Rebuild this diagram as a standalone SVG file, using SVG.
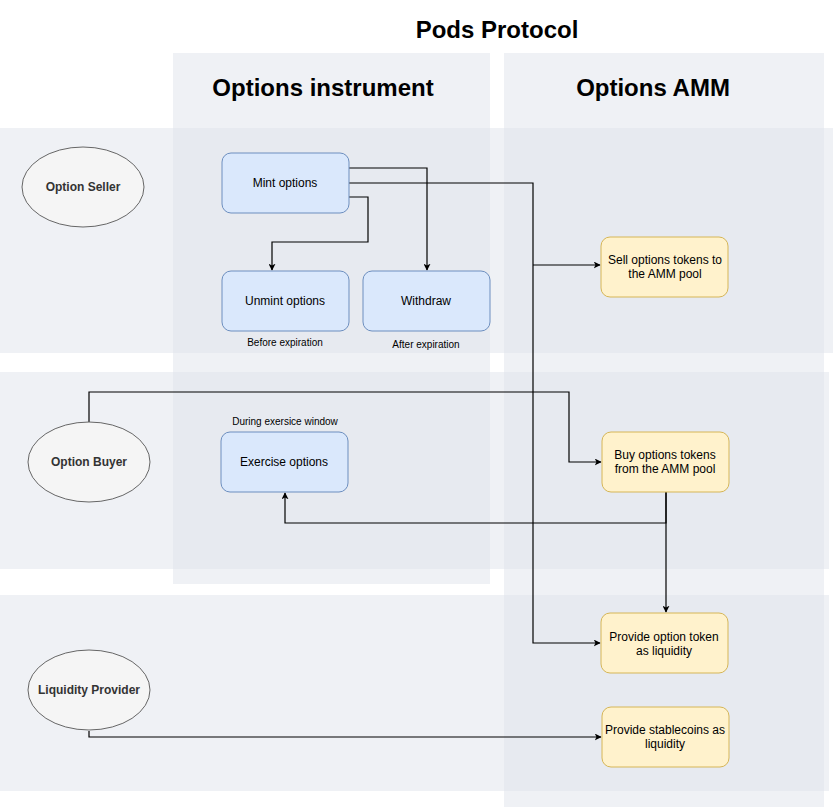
<svg xmlns="http://www.w3.org/2000/svg" width="834" height="807" viewBox="0 0 834 807">
<style>
text{font-family:"Liberation Sans",Arial,Helvetica,sans-serif;fill:#000}
.bg{fill:#dfe3eb;fill-opacity:0.5}
.h1{font-size:24px;font-weight:bold;text-anchor:middle}
.blue{fill:#dae8fc;stroke:#6c8ebf;stroke-width:1}
.yel{fill:#fff2cc;stroke:#d6b656;stroke-width:1}
.ell{fill:#f5f5f5;stroke:#666666;stroke-width:1}
.t{font-size:12px;text-anchor:middle}
.tb{font-size:12px;font-weight:bold;text-anchor:middle;fill:#333}
.s{font-size:10px;text-anchor:middle}
.c{fill:none;stroke:#000;stroke-width:1.2}
</style>
<defs>
<marker id="arr" viewBox="0 0 10 10" refX="9" refY="5" markerWidth="7" markerHeight="7" orient="auto" markerUnits="userSpaceOnUse">
<path d="M0,0 L10,5 L0,10 L2.5,5 Z" fill="#000"/>
</marker>
</defs>
<rect width="834" height="807" fill="#ffffff"/>
<g id="lanes">
<rect class="bg" x="173" y="53" width="317" height="531"/>
<rect class="bg" x="504" y="53" width="320" height="754"/>
<rect class="bg" x="0" y="128" width="833" height="225"/>
<rect class="bg" x="0" y="372" width="829" height="197"/>
<rect class="bg" x="0" y="595" width="829" height="196"/>
</g>
<text class="h1" x="497" y="38">Pods Protocol</text>
<text class="h1" x="323" y="96">Options instrument</text>
<text class="h1" x="653" y="96">Options AMM</text>
<g id="connectors">
<path class="c" d="M349,168 H427 V270" marker-end="url(#arr)"/>
<path class="c" d="M349,197 H368 V242 H272 V270" marker-end="url(#arr)"/>
<path class="c" d="M349,183 H533 V643 H600" marker-end="url(#arr)"/>
<path class="c" d="M533,265 H600" marker-end="url(#arr)"/>
<path class="c" d="M89,422 V392 H569 V462 H601" marker-end="url(#arr)"/>
<path class="c" d="M666,492 V523 H285 V493" marker-end="url(#arr)"/>
<path class="c" d="M666,492 V612" marker-end="url(#arr)"/>
<path class="c" d="M89,731 V737 H601" marker-end="url(#arr)"/>
</g>
<g id="option-seller"><ellipse class="ell" cx="83" cy="187" rx="61" ry="40"/><text class="tb" x="83" y="191">Option Seller</text></g>
<g id="option-buyer"><ellipse class="ell" cx="89" cy="462" rx="61" ry="40"/><text class="tb" x="89" y="466">Option Buyer</text></g>
<g id="liquidity-provider"><ellipse class="ell" cx="89" cy="690" rx="61" ry="40"/><text class="tb" x="89" y="694">Liquidity Provider</text></g>
<g id="mint"><rect class="blue" x="222" y="153" width="127" height="60" rx="9"/><text class="t" x="285" y="187">Mint options</text></g>
<g id="unmint"><rect class="blue" x="222" y="271" width="127" height="60" rx="9"/><text class="t" x="285" y="305">Unmint options</text><text class="s" x="285" y="346">Before expiration</text></g>
<g id="withdraw"><rect class="blue" x="363" y="271" width="127" height="60" rx="9"/><text class="t" x="426" y="305">Withdraw</text><text class="s" x="426" y="348">After expiration</text></g>
<g id="exercise"><rect class="blue" x="221" y="432" width="127" height="60" rx="9"/><text class="t" x="284" y="466">Exercise options</text><text class="s" x="285" y="425">During exersice window</text></g>
<g id="sell"><rect class="yel" x="601" y="237" width="127" height="60" rx="9"/><text class="t" x="665" y="264">Sell options tokens to</text><text class="t" x="665" y="278">the AMM pool</text></g>
<g id="buy"><rect class="yel" x="602" y="432" width="127" height="60" rx="9"/><text class="t" x="665" y="459">Buy options tokens</text><text class="t" x="665" y="473">from the AMM pool</text></g>
<g id="provide-option"><rect class="yel" x="601" y="613" width="127" height="60" rx="9"/><text class="t" x="664" y="641">Provide option token</text><text class="t" x="664" y="655">as liquidity</text></g>
<g id="provide-stable"><rect class="yel" x="602" y="707" width="127" height="60" rx="9"/><text class="t" x="665" y="734">Provide stablecoins as</text><text class="t" x="665" y="748">liquidity</text></g>
</svg>
